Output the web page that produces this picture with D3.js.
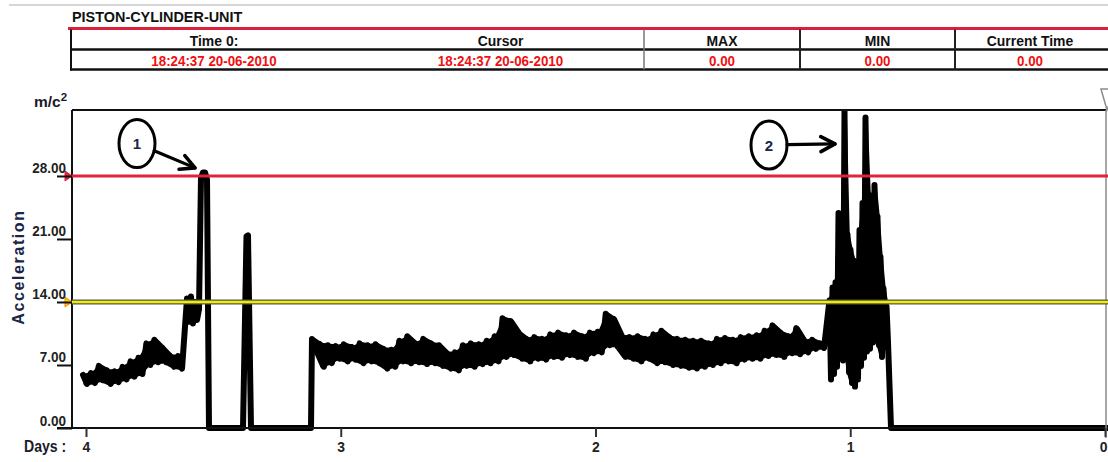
<!DOCTYPE html>
<html><head><meta charset="utf-8">
<script src="https://cdn.jsdelivr.net/npm/d3@7"></script>
<style>
html,body{margin:0;padding:0;background:#fff;}
svg{display:block;font-family:"Liberation Sans",Arial,sans-serif;}
</style></head><body>
<svg id="chart" width="1108" height="462"></svg>
<script>
// ---------- data ----------
const title = "PISTON-CYLINDER-UNIT";
const headerLabels = ["Time 0:", "Cursor", "MAX", "MIN", "Current Time"];
const headerValues = ["18:24:37 20-06-2010", "18:24:37 20-06-2010", "0.00", "0.00", "0.00"];
const yTicks = [0, 7, 14, 21, 28];
const xTicks = [4, 3, 2, 1, 0];
const yUnit = "m/c";
const yLabel = "Acceleration";
const xLabel = "Days :";
const upperLimit = 28;
const lowerLimit = 14;

// run A: early section, per-bin max / min (days 4.0118 -> 3.6075)
const runADays = [4.0118, 3.6075];
const runAHigh = [5.9, 6.1, 6.9, 6.4, 6.3, 6.8, 7.4, 7.8, 9.4, 9.8, 8.9, 8.0, 8.0];
const runALow  = [4.9, 5.0, 5.3, 4.9, 5.1, 5.4, 5.7, 6.0, 7.0, 7.3, 7.3, 6.8, 6.6];
// event 1: step up, spike 1, drop to zero, spike 2, restart
const eventDays   = [3.6035, 3.5957, 3.5878, 3.5800, 3.5721, 3.5643, 3.5564, 3.5486, 3.5407, 3.5329, 3.5250, 3.5172,
  3.3837, 3.3700, 3.3641, 3.3523, 3.1168];
const eventValues = [14.4, 11.8, 14.6, 11.6, 14.0, 12.0, 13.2, 27.8, 28.4, 28.4, 27.6, 0,
  0, 21.3, 21.4, 0, 0];
// run B: long middle section, per-bin max / min (days 3.1129 -> 1.0873)
const runBDays = [3.1129, 1.0873];
const runBHigh = [9.9, 9.3, 9.2, 9.1, 9.3, 9.0, 9.4, 9.2, 9.3, 8.8, 8.7, 9.7, 10.2, 9.4, 9.9, 9.4, 9.2,
  8.3, 8.4, 9.2, 9.4, 9.3, 9.7, 10.2, 12.2, 11.9, 10.6, 9.9, 10.1, 9.9, 10.4, 10.6, 10.3, 10.6, 10.2,
  10.6, 10.7, 12.7, 12.1, 10.2, 10.1, 10.2, 9.9, 10.4, 10.8, 10.1, 9.9, 9.8, 9.7, 9.7, 9.4, 9.9, 10.0,
  9.8, 10.1, 10.2, 10.3, 10.8, 11.4, 10.6, 10.2, 11.1, 9.7, 9.8, 9.4];
const runBLow  = [8.8, 6.8, 7.2, 7.7, 7.4, 7.6, 7.2, 7.4, 7.2, 6.6, 6.8, 7.4, 7.2, 7.3, 7.1, 7.2, 6.9,
  6.6, 6.4, 6.9, 6.8, 7.1, 7.2, 7.4, 7.9, 8.1, 7.7, 7.4, 7.7, 7.6, 7.9, 7.8, 8.1, 7.9, 7.7,
  8.3, 8.4, 9.2, 9.1, 7.9, 7.7, 7.4, 7.7, 7.2, 7.3, 7.0, 6.9, 6.7, 6.6, 6.8, 7.0, 7.2, 7.4,
  7.2, 7.6, 7.7, 7.7, 8.0, 8.1, 7.9, 8.3, 8.2, 8.4, 8.8, 8.9];
// run C: oscillation burst, per-bin max / min (days 1.0814 -> 0.8459)
const runCDays = [1.0814, 0.8459];
const runCHigh = [14.2, 15.6, 16.2, 23.9, 21.0, 35.3, 21.5, 19.8, 18.6, 17.0, 22.0, 25.0, 34.5, 26.0,
  25.5, 27.0, 23.5, 19.0, 15.5, 13.5];
const runCLow  = [5.4, 6.0, 6.8, 8.4, 7.5, 9.0, 6.2, 5.0, 4.6, 5.4, 6.9, 7.8, 8.5, 8.8,
  9.5, 10.0, 9.2, 7.9, 9.0, 9.5];
// tail: drop to zero until the end
const tailDays = [0.8400, -0.0118];
const tailValues = [0, 0];

// annotations: circle centre (day, value) and arrow tip (day, value)
const annotations = [
  {label: "1", cDay: 3.7998, cVal: 31.6, tDay: 3.572, tVal: 28.9},
  {label: "2", cDay: 1.3189, cVal: 31.44, tDay: 1.0598, tVal: 31.56}
];

// ---------- build series ----------
// min/max trace: each bin gives its maximum then its minimum
function runPairs(range, hi, lo) {
  const n = hi.length, step = (range[1] - range[0]) / n;
  const pts = [];
  hi.forEach((h, i) => {
    pts.push([range[0] + i * step, h]);
    pts.push([range[0] + (i + 0.5) * step, lo[i]]);
  });
  return pts;
}
// envelope of a run (for filling between min and max)
function runBand(range, hi, lo) {
  const n = hi.length, step = (range[1] - range[0]) / n;
  return hi.map((h, i) => ({d: range[0] + (i + 0.25) * step, hi: h, lo: lo[i]}));
}
const series = [].concat(
  runPairs(runADays, runAHigh, runALow),
  eventDays.map((d, i) => [d, eventValues[i]]),
  runPairs(runBDays, runBHigh, runBLow),
  runPairs(runCDays, runCHigh, runCLow),
  tailDays.map((d, i) => [d, tailValues[i]])
);
const bands = [
  runBand(runADays, runAHigh, runALow),
  runBand(runBDays, runBHigh, runBLow),
  runBand(runCDays, runCHigh, runCLow)
];

// condensed-bold look: squeeze glyphs horizontally
function condense(sel, factor) {
  sel.each(function () {
    const len = this.getComputedTextLength();
    d3.select(this).attr("textLength", len * factor).attr("lengthAdjust", "spacingAndGlyphs");
  });
  return sel;
}

// ---------- layout ----------
const svg = d3.select("#chart");
const plotL = 72, plotT = 110, plotB = 428, plotR = 1106;
const x = d3.scaleLinear().domain([4, 0]).range([86, 1105]);
const y = d3.scaleLinear().domain([0, 35.33]).range([plotB, plotT]);

// ---------- header ----------
svg.append("line").attr("x1", 9).attr("x2", 1108).attr("y1", 5).attr("y2", 5)
  .attr("stroke", "#c8c8c8").attr("stroke-width", 1.5);
condense(svg.append("text").attr("x", 72).attr("y", 22).text(title)
  .attr("font-size", 15.5).attr("font-weight", "bold").attr("fill", "#111"), 0.93);

const cols = [71, 357, 644, 800, 955, 1108];
const rowTop = 28.5, rowMid = 49.5, rowBot = 69.5;
svg.append("line").attr("x1", 68).attr("x2", 1108).attr("y1", rowTop).attr("y2", rowTop)
  .attr("stroke", "#dc1f3c").attr("stroke-width", 3);
svg.append("line").attr("x1", 70).attr("x2", 1108).attr("y1", rowMid).attr("y2", rowMid)
  .attr("stroke", "#111").attr("stroke-width", 2.5);
svg.append("line").attr("x1", 70).attr("x2", 1108).attr("y1", rowBot).attr("y2", rowBot)
  .attr("stroke", "#111").attr("stroke-width", 2.5);
svg.append("line").attr("x1", cols[0]).attr("x2", cols[0]).attr("y1", rowTop + 1).attr("y2", rowBot + 1)
  .attr("stroke", "#111").attr("stroke-width", 2);
[2, 3, 4].forEach(i => {
  svg.append("line").attr("x1", cols[i]).attr("x2", cols[i]).attr("y1", rowTop + 1).attr("y2", rowBot)
    .attr("stroke", i === 2 ? "#777" : "#222").attr("stroke-width", i === 2 ? 1.5 : 2);
});
headerLabels.forEach((t, i) => {
  const cx = (cols[i] + (i === 4 ? 1105 : cols[i + 1])) / 2;
  condense(svg.append("text").attr("x", cx).attr("y", 45.5).attr("text-anchor", "middle")
    .attr("font-size", 15).attr("font-weight", "bold").attr("fill", "#111").text(t), 0.93);
  condense(svg.append("text").attr("x", cx).attr("y", 65.5).attr("text-anchor", "middle")
    .attr("font-size", 14.5).attr("font-weight", "bold").attr("fill", "#f01010").text(headerValues[i]), 0.92);
});

// ---------- plot ----------
const defs = svg.append("defs");
defs.append("clipPath").attr("id", "clip").append("rect")
  .attr("x", plotL).attr("y", plotT - 1).attr("width", 1108 - plotL).attr("height", plotB - plotT + 10);
const gData = svg.append("g").attr("clip-path", "url(#clip)");

// filled min/max envelopes
const area = d3.area().x(d => x(d.d)).y0(d => y(d.lo)).y1(d => y(d.hi));
bands.forEach(b => {
  gData.append("path").datum(b).attr("d", area).attr("fill", "#000")
    .attr("stroke", "#000").attr("stroke-width", 3).attr("stroke-linejoin", "round");
});
// data line
const line = d3.line().x(d => x(d[0])).y(d => y(d[1]));
gData.append("path").datum(series)
  .attr("d", line).attr("fill", "none").attr("stroke", "#000")
  .attr("stroke-width", 6).attr("stroke-linejoin", "round").attr("stroke-linecap", "round");

// frame
svg.append("line").attr("x1", plotL).attr("x2", plotR).attr("y1", plotT).attr("y2", plotT)
  .attr("stroke", "#111").attr("stroke-width", 2);
svg.append("line").attr("x1", plotL).attr("x2", plotL).attr("y1", plotT).attr("y2", plotB)
  .attr("stroke", "#111").attr("stroke-width", 2);
svg.append("line").attr("x1", 57).attr("x2", 1108).attr("y1", plotB).attr("y2", plotB)
  .attr("stroke", "#111").attr("stroke-width", 2);
// cursor line at day 0
svg.append("line").attr("x1", x(0) + 1).attr("x2", x(0) + 1).attr("y1", plotT).attr("y2", plotB + 10)
  .attr("stroke", "#8a8a8a").attr("stroke-width", 1.5);
svg.append("path")
  .attr("d", `M${x(0) - 4},${plotT - 21} L${x(0) + 10},${plotT - 21} L${x(0) + 2},${plotT} Z`)
  .attr("fill", "#fff").attr("stroke", "#8a8a8a").attr("stroke-width", 1.5);

// limit lines (drawn over the data)
svg.append("line").attr("x1", plotL).attr("x2", 1108).attr("y1", y(lowerLimit)).attr("y2", y(lowerLimit))
  .attr("stroke", "#555").attr("stroke-width", 5);
svg.append("line").attr("x1", plotL).attr("x2", 1108).attr("y1", y(lowerLimit)).attr("y2", y(lowerLimit))
  .attr("stroke", "#f2ec00").attr("stroke-width", 2.6);
svg.append("line").attr("x1", plotL).attr("x2", 1108).attr("y1", y(upperLimit)).attr("y2", y(upperLimit))
  .attr("stroke", "#e4203f").attr("stroke-width", 3);
// limit markers
function marker(v, fill, stroke) {
  const yy = y(v);
  svg.append("path").attr("d", `M${plotL - 7},${yy - 5} L${plotL},${yy} L${plotL - 7},${yy + 5} Z`)
    .attr("fill", fill).attr("stroke", stroke).attr("stroke-width", 1);
}
marker(upperLimit, "#e4203f", "#e4203f");
marker(lowerLimit, "#f5d000", "#f08a00");

// y axis
const yAxis = d3.axisLeft(y).tickValues(yTicks).tickSize(15).tickFormat(d3.format(".2f"));
const gy = svg.append("g").attr("transform", `translate(${plotL},0)`).call(yAxis);
gy.select(".domain").remove();
gy.selectAll(".tick line").attr("stroke", "#111").attr("stroke-width", 2);
condense(gy.selectAll(".tick text").attr("x", -6).attr("dy", -3)
  .attr("font-size", 15).attr("font-weight", "bold").attr("fill", "#222")
  .attr("font-family", "'Liberation Sans',Arial,sans-serif"), 0.9);

// x axis
const xAxis = d3.axisBottom(x).tickValues(xTicks).tickSize(9).tickFormat(d3.format("d"));
const gx = svg.append("g").attr("transform", `translate(0,${plotB})`).call(xAxis);
gx.select(".domain").remove();
gx.selectAll(".tick line").attr("stroke", "#333").attr("stroke-width", 2);
condense(gx.selectAll(".tick text").attr("y", 13).attr("dy", "0.71em")
  .attr("font-size", 15.5).attr("font-weight", "bold").attr("fill", "#222")
  .attr("font-family", "'Liberation Sans',Arial,sans-serif"), 0.9);
// keep the last label ("0") inside the page edge
gx.selectAll(".tick text").filter(d => d === 0).attr("text-anchor", "end").attr("x", 2);

// axis titles
const unit = svg.append("text").attr("x", 34).attr("y", 107)
  .attr("font-size", 15.5).attr("font-weight", "bold").attr("fill", "#1a1a2a");
unit.append("tspan").text(yUnit);
unit.append("tspan").attr("font-size", 11.5).attr("dy", -6).text("2");
svg.append("text").attr("transform", "translate(24,267) rotate(-90)")
  .attr("text-anchor", "middle").attr("font-size", 16).attr("font-weight", "bold")
  .attr("letter-spacing", 1.6).attr("fill", "#1c2448").text(yLabel);
condense(svg.append("text").attr("x", 24).attr("y", 452)
  .attr("font-size", 16).attr("font-weight", "bold").attr("fill", "#1a1a2a").text(xLabel), 0.88);

// annotations
annotations.forEach((a, i) => {
  const cx = x(a.cDay), cy = y(a.cVal), tx = x(a.tDay), ty = y(a.tVal);
  const rx = 18, ry = 24;
  svg.append("ellipse").attr("cx", cx).attr("cy", cy).attr("rx", rx).attr("ry", ry)
    .attr("fill", "#fff").attr("stroke", "#000").attr("stroke-width", 3);
  svg.append("text").attr("x", cx).attr("y", cy + 5.5).attr("text-anchor", "middle")
    .attr("font-size", 15).attr("font-weight", "bold").attr("fill", "#1c2448").text(a.label);
  const dx = tx - cx, dy = ty - cy;
  const t = 1 / Math.sqrt((dx / rx) ** 2 + (dy / ry) ** 2);
  const sx = cx + dx * t, sy = cy + dy * t;
  svg.append("line").attr("x1", sx).attr("y1", sy).attr("x2", tx).attr("y2", ty)
    .attr("stroke", "#000").attr("stroke-width", 3.2).attr("stroke-linecap", "round");
  const ang = Math.atan2(dy, dx);
  const len = 16, spread = Math.PI / 6.5;
  const a1 = ang + Math.PI - spread, a2 = ang + Math.PI + spread;
  svg.append("path")
    .attr("d", `M${tx + len * Math.cos(a1)},${ty + len * Math.sin(a1)} L${tx},${ty} L${tx + len * Math.cos(a2)},${ty + len * Math.sin(a2)}`)
    .attr("fill", "none").attr("stroke", "#000").attr("stroke-width", 3.6)
    .attr("stroke-linecap", "round").attr("stroke-linejoin", "round");
});
</script>
</body></html>
